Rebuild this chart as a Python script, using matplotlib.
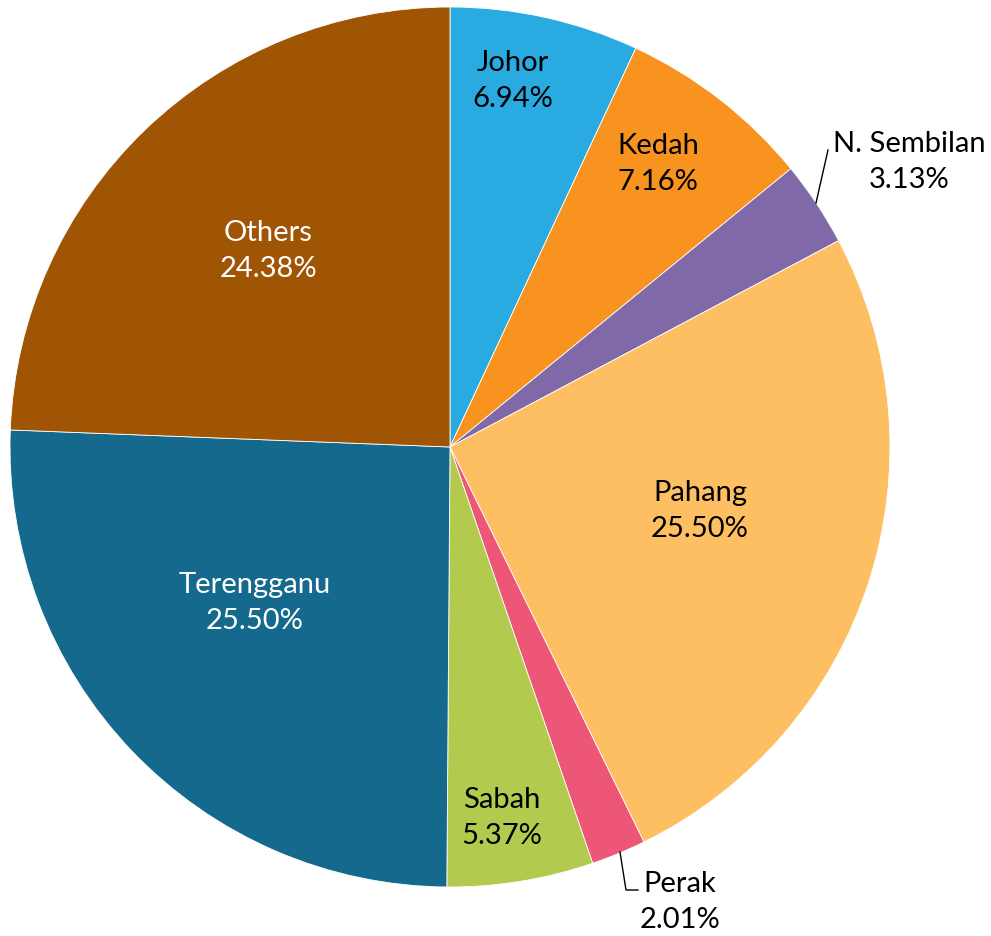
import matplotlib.pyplot as plt

states = ['Johor', 'Kedah', 'N. Sembilan', 'Pahang', 'Perak', 'Sabah', 'Terengganu', 'Others']
shares = [6.94, 7.16, 3.13, 25.50, 2.01, 5.37, 25.50, 24.38]
colors = ['#29ABE2', '#F7931E', '#8069A9', '#FDBF62', '#EE5677', '#B2CA4D', '#15698C', '#A05505']
text_colors = ['black', 'black', 'black', 'black', 'black', 'black', 'white', 'white']

# label centres in pixels of the 991x936 image
label_px = [(513, 81), (658, 164), (909, 162), (700, 511),
            (680, 902), (502, 818), (255, 603), (268, 251)]

W, H = 991, 936
cx, cy, R = 450, 447, 440


def to_data(px, py):
    return (px - cx) / R, (cy - py) / R


fig = plt.figure(figsize=(W / 100, H / 100), dpi=100)
ax = fig.add_axes([0, 0, 1, 1])
ax.pie(shares, colors=colors, startangle=90, counterclock=False, radius=1,
       wedgeprops={'edgecolor': 'white', 'linewidth': 0.6})
x0, y0 = to_data(0, H)
x1, y1 = to_data(W, 0)
ax.set_xlim(x0, x1)
ax.set_ylim(y0, y1)
ax.set_aspect('auto')
ax.axis('off')

for name, val, (px, py), tc in zip(states, shares, label_px, text_colors):
    x, y = to_data(px, py)
    ax.text(x, y, f'{name}\n{val:.2f}%', ha='center', va='center',
            fontsize=21, color=tc, family='Lato', linespacing=1.48)

# leader lines
lx, ly = zip(*[to_data(816, 203), to_data(828, 150)])
ax.plot(lx, ly, color='black', lw=1)
lx, ly = zip(*[to_data(620, 852), to_data(626, 890), to_data(638, 890)])
ax.plot(lx, ly, color='black', lw=1)

fig.savefig('out.png', dpi=100)
